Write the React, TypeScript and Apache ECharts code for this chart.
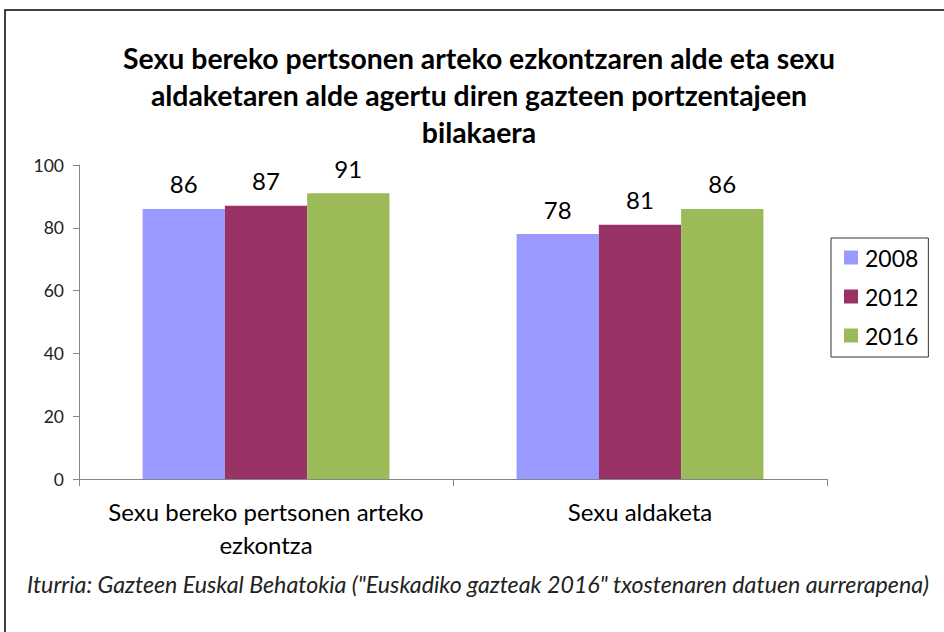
import React, { useEffect, useRef } from "react";
import * as echarts from "echarts";

const titleText =
  "Sexu bereko pertsonen arteko ezkontzaren alde eta sexu\naldaketaren alde agertu diren gazteen portzentajeen\nbilakaera";
const categories = ["Sexu bereko pertsonen arteko\nezkontza", "Sexu aldaketa"];
const years = ["2008", "2012", "2016"];
const values2008 = [86, 78];
const values2012 = [87, 81];
const values2016 = [91, 86];
const yTicks = [0, 20, 40, 60, 80, 100];
const sourceText =
  'Iturria: Gazteen Euskal Behatokia ("Euskadiko gazteak 2016" txostenaren datuen aurrerapena)';
const colors = ["#9999FF", "#993366", "#9BBB59"];

export default function App() {
  const ref = useRef<HTMLDivElement>(null);
  useEffect(() => {
    if (!ref.current) return;
    const chart = echarts.init(ref.current, null, { renderer: "svg" });
    const font = "Lato, 'Open Sans', sans-serif";
    const seriesData = [values2008, values2012, values2016];
    chart.setOption({
      animation: false,
      textStyle: { fontFamily: font },
      title: {
        text: titleText,
        left: 474,
        top: 34,
        textAlign: "center",
        textStyle: {
          fontFamily: font,
          fontSize: 28.4,
          fontWeight: "bold",
          color: "#000",
          lineHeight: 37,
        },
      },
      grid: { left: 79, right: 117, top: 165, bottom: 153, containLabel: false },
      legend: {
        orient: "vertical",
        left: 831,
        top: 238,
        data: years,
        itemWidth: 14,
        itemHeight: 14,
        itemGap: 16,
        padding: [8, 10, 10, 13],
        borderColor: "#333",
        borderWidth: 1,
        textStyle: { fontFamily: font, fontSize: 23, color: "#000", padding: [0, 0, 0, 2] },
        icon: "rect",
      },
      xAxis: {
        type: "category",
        data: categories,
        axisLine: { lineStyle: { color: "#868686", width: 1 } },
        axisTick: { show: true, length: 7, lineStyle: { color: "#868686" } },
        axisLabel: {
          interval: 0,
          fontFamily: font,
          fontSize: 24,
          color: "#000",
          lineHeight: 33,
          margin: 16,
        },
      },
      yAxis: {
        type: "value",
        min: 0,
        max: 100,
        interval: 20,
        axisLine: { show: true, lineStyle: { color: "#868686", width: 1 } },
        axisTick: { show: true, length: 6, lineStyle: { color: "#868686" } },
        splitLine: { show: false },
        axisLabel: {
          fontFamily: font,
          fontSize: 17.5,
          color: "#222",
          margin: 15,
          formatter: (v: number) => (yTicks.includes(v) ? String(v) : ""),
        },
      },
      series: years.map((y, i) => ({
        name: y,
        type: "bar",
        data: seriesData[i],
        barGap: "0%",
        barCategoryGap: "34%",
        itemStyle: { color: colors[i] },
        label: {
          show: true,
          position: "top",
          distance: 13,
          fontFamily: font,
          fontSize: 24,
          color: "#000",
        },
      })),
      graphic: [
        {
          type: "rect",
          shape: { x: 5, y: 10, width: 960, height: 660 },
          style: { fill: "none", stroke: "#000", lineWidth: 1.5 },
          silent: true,
        },
        {
          type: "text",
          left: 27,
          top: 572,
          style: {
            text: sourceText,
            fontFamily: font,
            fontSize: 23.2,
            fontStyle: "italic",
            fill: "#222",
          },
        },
      ],
    });
    return () => chart.dispose();
  }, []);
  return (
    <div
      ref={ref}
      style={{ position: "fixed", left: 0, top: 0, width: 944, height: 632, background: "#fff" }}
    />
  );
}
